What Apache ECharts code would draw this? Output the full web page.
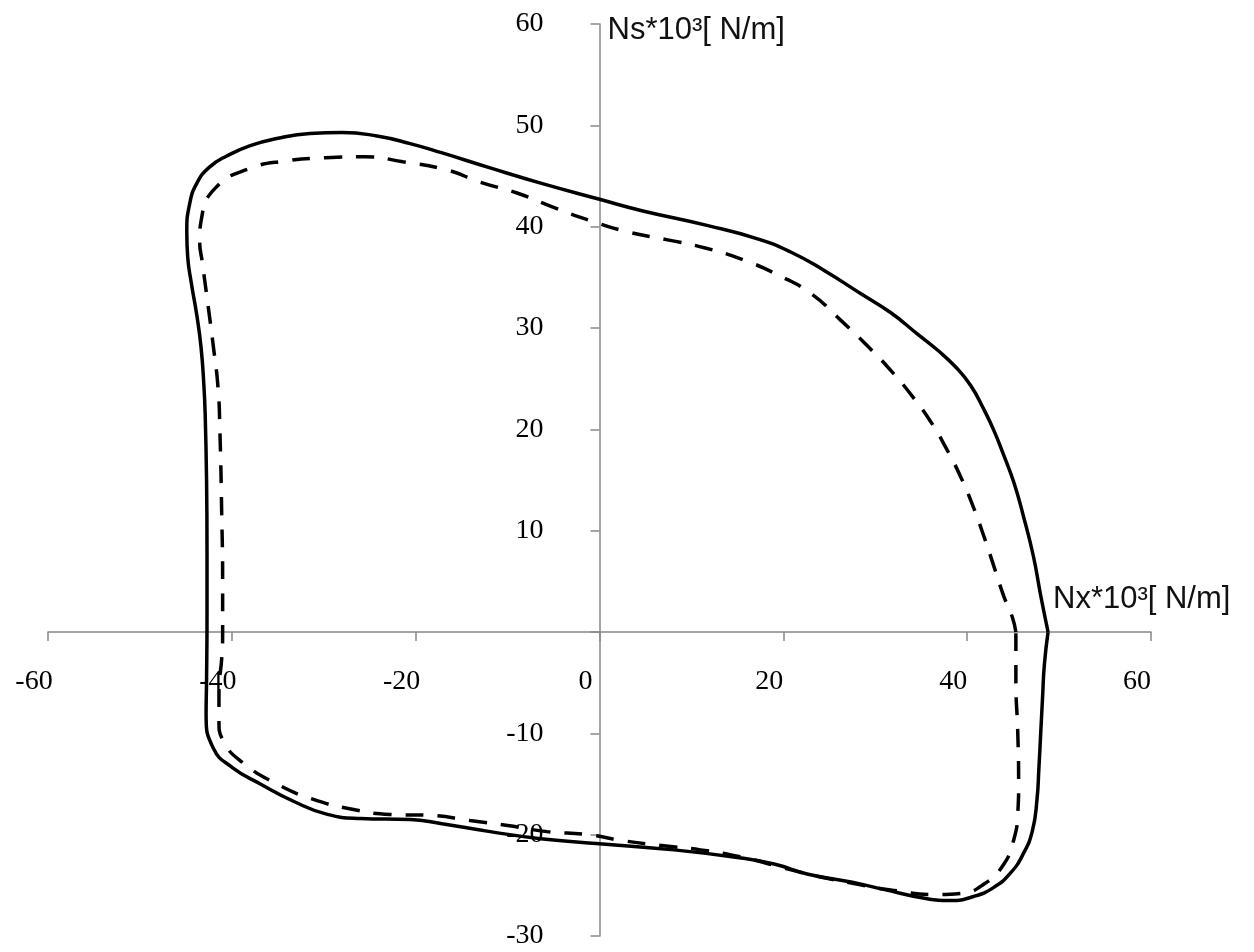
<!DOCTYPE html>
<html>
<head>
<meta charset="utf-8">
<script src="https://cdn.jsdelivr.net/npm/echarts@6/dist/echarts.min.js"></script>
<style>
  html, body { margin: 0; padding: 0; background: #fff; }
  #chart_1 { width: 1254px; height: 952px; }
</style>
</head>
<body>
<div id="chart_1"></div>
<script>
// 外曲线（实线）Nx, Ns
var solidNx = [48.8, 48.0, 47.2, 46.1, 45.1, 44.0, 42.9, 41.8, 40.4, 38.8, 36.8, 34.6, 31.7, 28.4, 24.4, 20.8, 17.2,
    11.8, 4.5, 0, -6.4, -11.9, -17.2, -20.6, -24.2, -28.0, -31.5, -35.1, -38.0, -40.5, -42.4, -43.8, -44.6, -44.9,
    -44.8, -44.4, -43.8, -43.35, -43.05, -42.9, -42.75, -42.7, -42.7, -42.75, -42.8, -42.0, -39.9, -36.9, -33.3,
    -29.6, -26.0, -20.6, -17.3, -11.9, -6.4, 0, 8.1, 15.4, 19.0, 22.7, 27.5, 30.9, 35.5, 38.2, 40.7, 42.9, 44.7,
    46.1, 47.1, 47.6, 47.8, 48.0, 48.2, 48.4, 48.8];
var solidNs = [0, 3.6, 7.5, 11.5, 14.7, 17.4, 19.9, 22.0, 24.3, 26.1, 27.8, 29.4, 31.5, 33.4, 35.7, 37.5, 38.8,
    40.1, 41.6, 42.7, 44.3, 45.8, 47.3, 48.2, 48.95, 49.3, 49.2, 48.7, 48.0, 47.0, 45.9, 44.3, 42.2, 39.5,
    37.0, 34.4, 31.2, 28.1, 24.5, 21.5, 15.0, 8.0, 1.8, -4.8, -8.1, -11.5, -13.4, -15.0, -16.7,
    -18.0, -18.4, -18.5, -18.9, -19.7, -20.4, -20.9, -21.5, -22.3, -22.9, -23.9, -24.7, -25.4, -26.3, -26.5, -26.1, -25.2, -23.8,
    -21.9, -19.6, -16.5, -13.5, -10.0, -6.5, -3.2, 0];

// 内曲线（虚线）Nx, Ns
var dashNx = [45.3, 44.9, 44.0, 42.9, 41.8, 40.6, 39.3, 37.8, 36.0, 34.0, 31.8, 29.3, 26.2, 23.0, 19.5, 15.7, 11.5,
    7.4, 3.0, -1.0, -5.0, -8.9, -13.0, -16.6, -21.4, -25.5, -29.8, -34.0, -38.2, -41.8, -43.3, -43.5, -43.2, -42.7,
    -42.0, -41.5, -41.3, -41.1, -41.0, -41.0, -41.1, -41.4, -41.4, -40.9, -38.8, -35.1, -31.2, -26.9, -22.8, -18.4,
    -14.1, -10.0, -5.7, -1.3, 2.6, 7.0, 11.0, 15.4, 19.7, 23.7, 28.1, 32.0, 36.4, 39.3, 41.8, 44.0, 45.1, 45.5, 45.6,
    45.5, 45.3, 45.3];
var dashNs = [0, 1.5, 3.5, 6.5, 9.5, 12.5, 15.3, 18.0, 20.8, 23.3, 25.7, 28.1, 30.8, 33.4, 35.2, 36.7, 37.9,
    38.7, 39.5, 40.6, 41.9, 43.3, 44.4, 45.6, 46.4, 46.9, 46.8, 46.5, 45.7, 43.8, 40.8, 38.6, 36.4, 33.0,
    28.1, 24.1, 19.9, 11.6, 5.0, 0, -2.6, -5.8, -8.8, -10.8, -12.9, -15.0, -16.5, -17.5, -18.0, -18.1,
    -18.6, -19.1, -19.7, -20.0, -20.6, -21.1, -21.5, -22.2, -23.2, -24.1, -24.9, -25.5, -25.9, -25.8, -24.9, -22.9, -20.4, -18.0, -14.7,
    -9.8, -4.8, 0];

var xTicks = [-60, 60, 20];
var yTicks = [-30, 60, 10];

function toPairs(xs, ys) {
    var out = [];
    for (var i = 0; i < xs.length; i++) {
        out.push([xs[i], ys[i]]);
    }
    return out;
}

function initCreateBiao1(div_id) {
    var myChart = echarts.init(document.getElementById(div_id));
    var axisColor = '#888888';
    var gridL = 48, gridR = 103, gridT = 24, gridB = 16;
    var plotW = 1254 - gridL - gridR;
    var plotH = 952 - gridT - gridB;
    // 坐标轴放在零点：用 offset 把轴从网格边移到 0 处
    var yOff = -plotW * (0 - xTicks[0]) / (xTicks[1] - xTicks[0]);
    var xOff = -plotH * (0 - yTicks[0]) / (yTicks[1] - yTicks[0]);
    var labelFont = {
        fontFamily: 'Liberation Serif',
        fontSize: 28,
        color: '#000'
    };
    var option = {
        animation: false,
        backgroundColor: '#fff',
        grid: { left: gridL, right: gridR, top: gridT, bottom: gridB, containLabel: false, outerBoundsMode: 'none' },
        xAxis: {
            type: 'value',
            position: 'bottom',
            offset: xOff,
            min: xTicks[0], max: xTicks[1], interval: xTicks[2],
            name: 'Nx*10³[ N/m]',
            nameLocation: 'end',
            nameGap: -98,
            nameTextStyle: {
                fontFamily: 'Liberation Sans', fontSize: 31, color: '#111',
                align: 'left', verticalAlign: 'bottom', padding: [0, 0, 17, 0]
            },
            splitLine: { show: false },
            axisLine: { onZero: false, lineStyle: { color: axisColor, width: 1.5 } },
            axisTick: { length: 9, lineStyle: { color: axisColor, width: 1.5 } },
            axisLabel: Object.assign({ margin: 36, padding: [0, 28, 0, 0] }, labelFont)
        },
        yAxis: {
            type: 'value',
            position: 'left',
            offset: yOff,
            min: yTicks[0], max: yTicks[1], interval: yTicks[2],
            name: 'Ns*10³[ N/m]',
            nameLocation: 'end',
            nameGap: -6,
            nameTextStyle: {
                fontFamily: 'Liberation Sans', fontSize: 31, color: '#111',
                align: 'left', verticalAlign: 'middle', padding: [0, 0, 0, 8]
            },
            splitLine: { show: false },
            axisLine: { onZero: false, lineStyle: { color: axisColor, width: 1.5 } },
            axisTick: { length: 9, lineStyle: { color: axisColor, width: 1.5 } },
            axisLabel: Object.assign({
                margin: 56,
                formatter: function (v) { return v === 0 ? '' : String(v); }
            }, labelFont)
        },
        series: [
            {
                name: 'outer',
                type: 'line',
                data: toPairs(solidNx, solidNs),
                smooth: 0.5,
                showSymbol: false,
                symbol: 'none',
                lineStyle: { color: '#000', width: 3.5 }
            },
            {
                name: 'inner',
                type: 'line',
                data: toPairs(dashNx, dashNs),
                smooth: 0.5,
                showSymbol: false,
                symbol: 'none',
                lineStyle: { color: '#000', width: 3.5, type: [18, 14] }
            }
        ]
    };
    myChart.setOption(option);
}

initCreateBiao1('chart_1');
</script>
</body>
</html>
